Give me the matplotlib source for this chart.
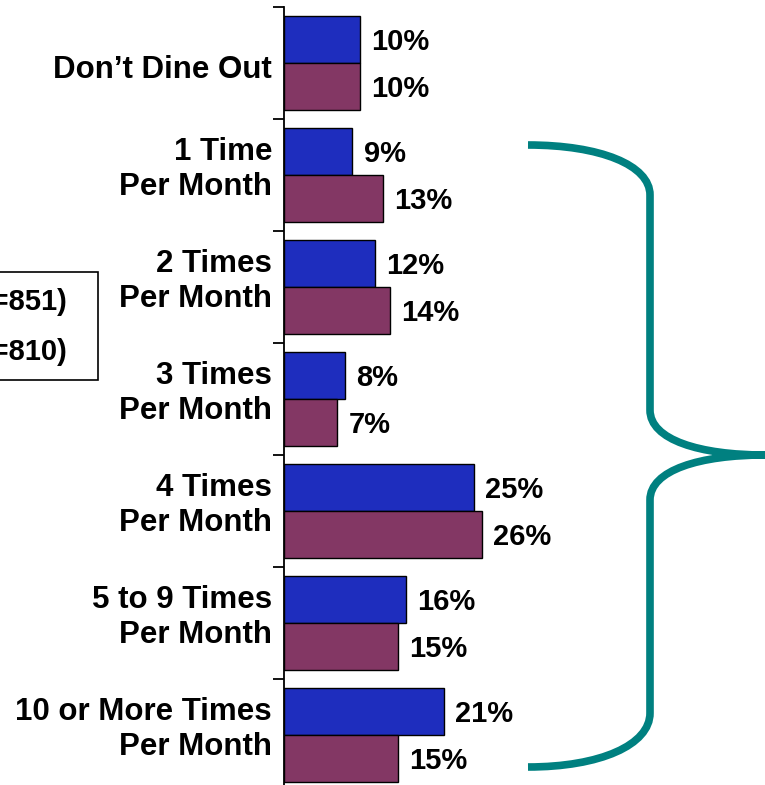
import matplotlib

matplotlib.use("Agg")
import matplotlib.pyplot as plt
import matplotlib.transforms as mtransforms
import numpy as np
from matplotlib.patches import Rectangle, PathPatch
from matplotlib.path import Path

W, H = 765, 785

categories = [
    "Don\u2019t Dine Out",
    "1 Time\nPer Month",
    "2 Times\nPer Month",
    "3 Times\nPer Month",
    "4 Times\nPer Month",
    "5 to 9 Times\nPer Month",
    "10 or More Times\nPer Month",
]
series_a = [10, 9, 12, 8, 25, 16, 21]
series_b = [10, 13, 14, 7, 26, 15, 15]
legend_labels = ["(n=851)", "(n=810)"]

BLUE = "#1E2DBE"
PURPLE = "#833764"
TEAL = "#008080"
FS = 21
FS_CAT = 22.5

plt.rcParams["font.family"] = ["Liberation Sans", "DejaVu Sans"]
plt.rcParams["font.weight"] = "bold"


def px(x, y):
    # figure pixel (top-left origin) -> figure fraction
    return x / W, 1 - y / H


fig = plt.figure(figsize=(W / 100, H / 100), dpi=100)
left, top = px(284, 7)
_, bottom = px(0, 791)
ax = fig.add_axes([left, bottom, 380 / W, top - bottom])

pos = np.arange(len(categories))
bh = 0.42
ax.barh(pos - bh / 2, series_a, height=bh, color=BLUE, edgecolor="black", lw=1.0)
ax.barh(pos + bh / 2, series_b, height=bh, color=PURPLE, edgecolor="black", lw=1.0)

for i in pos:
    for val, off in ((series_a[i], -bh / 2), (series_b[i], bh / 2)):
        ax.annotate(f"{val}%", (val, i + off), xytext=(8, -2), textcoords="offset points",
                    ha="left", va="center", fontsize=FS, fontweight="bold")

ax.set_xlim(0, 50)
ax.set_ylim(len(categories) - 0.5, -0.5)
for s in ("top", "right", "bottom"):
    ax.spines[s].set_visible(False)
ax.spines["left"].set_linewidth(1.3)
ax.set_xticks([])
ax.set_yticks([])
ax.set_yticks(np.arange(len(categories) + 1) - 0.5, minor=True)
ax.tick_params(axis="y", which="minor", length=8, width=1.3, direction="out")

# category labels, nudged like the original slide
lab_tr = mtransforms.blended_transform_factory(ax.transAxes, ax.transData) + \
    mtransforms.ScaledTranslation(-12 / 100, 0, fig.dpi_scale_trans)
for i, lab in zip(pos, categories):
    dy = 0.06 if "\n" not in lab else -0.045
    ax.text(0, i + dy, lab, transform=lab_tr, ha="right", va="center",
            fontsize=FS_CAT, fontweight="bold", linespacing=1.22, multialignment="right")

# legend box, mostly off the left edge
x0, y0 = px(-20, 380)
x1, y1 = px(98, 272)
fig.patches.append(Rectangle((x0, y0), x1 - x0, y1 - y0, transform=fig.transFigure,
                             fill=False, edgecolor="black", lw=1.2))
for lab, yy in zip(legend_labels, (302, 352)):
    tx, ty = px(67, yy)
    fig.text(tx, ty, lab, ha="right", va="center", fontsize=FS, fontweight="bold")

# curly brace
verts = [(528, 145), (600, 145), (650, 165), (650, 195),
         (650, 410),
         (650, 440), (700, 455), (765, 455),
         (700, 455), (650, 470), (650, 500),
         (650, 713),
         (650, 745), (600, 767), (528, 767)]
codes = [Path.MOVETO, Path.CURVE4, Path.CURVE4, Path.CURVE4,
         Path.LINETO,
         Path.CURVE4, Path.CURVE4, Path.CURVE4,
         Path.CURVE4, Path.CURVE4, Path.CURVE4,
         Path.LINETO,
         Path.CURVE4, Path.CURVE4, Path.CURVE4]
brace = Path([px(x, y) for x, y in verts], codes)
fig.patches.append(PathPatch(brace, transform=fig.transFigure, fill=False,
                             edgecolor=TEAL, lw=5.5, capstyle="butt"))

fig.savefig("out.png", dpi=100)
